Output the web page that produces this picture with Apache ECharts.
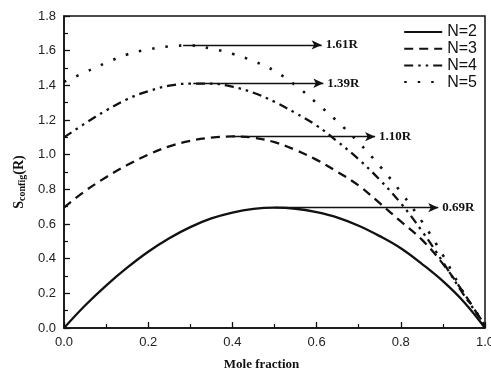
<!DOCTYPE html>
<html>
<head>
<meta charset="utf-8">
<script src="https://cdn.jsdelivr.net/npm/echarts@6/dist/echarts.min.js"></script>
<style>
  html, body { margin: 0; padding: 0; background: #fff; }
  #chart { width: 491px; height: 371px; }
</style>
</head>
<body>
<div id="chart"></div>
<script>
// mole fraction sample points
const xs = [0, 0.05, 0.1, 0.15, 0.2, 0.25, 0.3, 0.35, 0.4, 0.45, 0.5,
  0.55, 0.6, 0.65, 0.7, 0.75, 0.8, 0.85, 0.9, 0.95, 1];

// S_config (R)
const n2 = [0, 0.13, 0.245, 0.348, 0.44, 0.518, 0.582, 0.632, 0.666, 0.687, 0.694,
  0.688, 0.668, 0.637, 0.59, 0.53, 0.46, 0.37, 0.27, 0.15, 0];
const n3 = [0.695, 0.79, 0.87, 0.94, 1.0, 1.048, 1.08, 1.098, 1.105, 1.098, 1.072,
  1.027, 0.97, 0.90, 0.822, 0.72, 0.615, 0.51, 0.37, 0.20, 0.01];
const n4 = [1.10, 1.18, 1.255, 1.32, 1.366, 1.398, 1.41, 1.41, 1.392, 1.357, 1.305,
  1.24, 1.168, 1.075, 0.973, 0.855, 0.72, 0.56, 0.38, 0.19, 0.02];
const n5 = [1.42, 1.475, 1.53, 1.578, 1.607, 1.625, 1.63, 1.612, 1.582, 1.54, 1.483,
  1.40, 1.298, 1.19, 1.07, 0.935, 0.784, 0.615, 0.42, 0.20, 0.02];

const names = ["N=2", "N=3", "N=4", "N=5"];
const dashes = ["solid", [9, 6], [9, 5, 2.5, 5, 2.5, 5], [2.5, 11]];
const widths = [2.3, 2.3, 2.3, 2.6];

// annotation arrows: start x, end x, height, label
const arrowFrom = [0.5, 0.40, 0.307, 0.283];
const arrowTo = [0.889, 0.739, 0.616, 0.612];
const arrowY = [0.694, 1.104, 1.412, 1.633];
const arrowText = ["0.69R", "1.10R", "1.39R", "1.61R"];

const chart = echarts.init(document.getElementById("chart"));

const series = [n2, n3, n4, n5].map((vals, i) => ({
  name: names[i],
  type: "line",
  smooth: 0.4,
  symbol: "none",
  data: xs.map((x, j) => [x, vals[j]]),
  lineStyle: { color: "#111", width: widths[i], type: dashes[i] },
  itemStyle: { color: "#111" },
  markLine: {
    silent: true,
    symbol: ["none", "arrow"],
    symbolSize: [7, 10],
    lineStyle: { color: "#111", width: 1.3, type: "solid" },
    label: {
      position: "end",
      distance: 4,
      formatter: arrowText[i],
      fontFamily: "Liberation Serif",
      fontWeight: "bold",
      fontSize: 13,
      color: "#111"
    },
    data: [[{ coord: [arrowFrom[i], arrowY[i]] }, { coord: [arrowTo[i], arrowY[i]] }]]
  }
}));

const tickLabel = { fontFamily: "Liberation Sans", fontSize: 13, color: "#222" };

chart.setOption({
  animation: false,
  grid: {
    left: 64, right: 6, top: 16, bottom: 43,
    outerBoundsMode: "none", containLabel: false,
    show: true, borderColor: "#111", borderWidth: 1.5, backgroundColor: "#fff"
  },
  legend: {
    right: 14, top: 24, padding: 0,
    orient: "vertical",
    itemWidth: 38, itemHeight: 20, itemGap: 0.7,
    itemStyle: { opacity: 0 },
    textStyle: { fontFamily: "Liberation Sans", fontSize: 16, color: "#111" },
    data: names
  },
  xAxis: {
    type: "value", min: 0, max: 1, interval: 0.2,
    name: "Mole fraction", nameLocation: "middle", nameGap: 30,
    nameTextStyle: { fontFamily: "Liberation Serif", fontWeight: "bold", fontSize: 13,
      color: "#111", padding: [0, 26, 0, 0] },
    axisLine: { lineStyle: { color: "#111", width: 1.5 } },
    axisTick: { inside: true, length: 6, lineStyle: { color: "#111", width: 1.3 } },
    minorTick: { show: true, splitNumber: 2, length: 4, lineStyle: { color: "#111", width: 1.2 } },
    splitLine: { show: false },
    axisLabel: Object.assign({ formatter: v => v.toFixed(1), margin: 8 }, tickLabel)
  },
  yAxis: {
    type: "value", min: 0, max: 1.8, interval: 0.2,
    name: "{s|S}{sub|config}{s|(R)}", nameLocation: "middle", nameGap: 30,
    nameTextStyle: {
      padding: [0, 20, 0, 0],
      rich: {
        s: { fontFamily: "Liberation Serif", fontWeight: "bold", fontSize: 14, color: "#111" },
        sub: { fontFamily: "Liberation Serif", fontWeight: "bold", fontSize: 10, color: "#111",
          verticalAlign: "bottom", padding: [6, 0, 0, 0] }
      }
    },
    axisLine: { lineStyle: { color: "#111", width: 1.5 } },
    axisTick: { inside: true, length: 6, lineStyle: { color: "#111", width: 1.3 } },
    minorTick: { show: true, splitNumber: 2, length: 4, lineStyle: { color: "#111", width: 1.2 } },
    splitLine: { show: false },
    axisLabel: Object.assign({ formatter: v => v.toFixed(1), margin: 8 }, tickLabel)
  },
  series: series
});
</script>
</body>
</html>
